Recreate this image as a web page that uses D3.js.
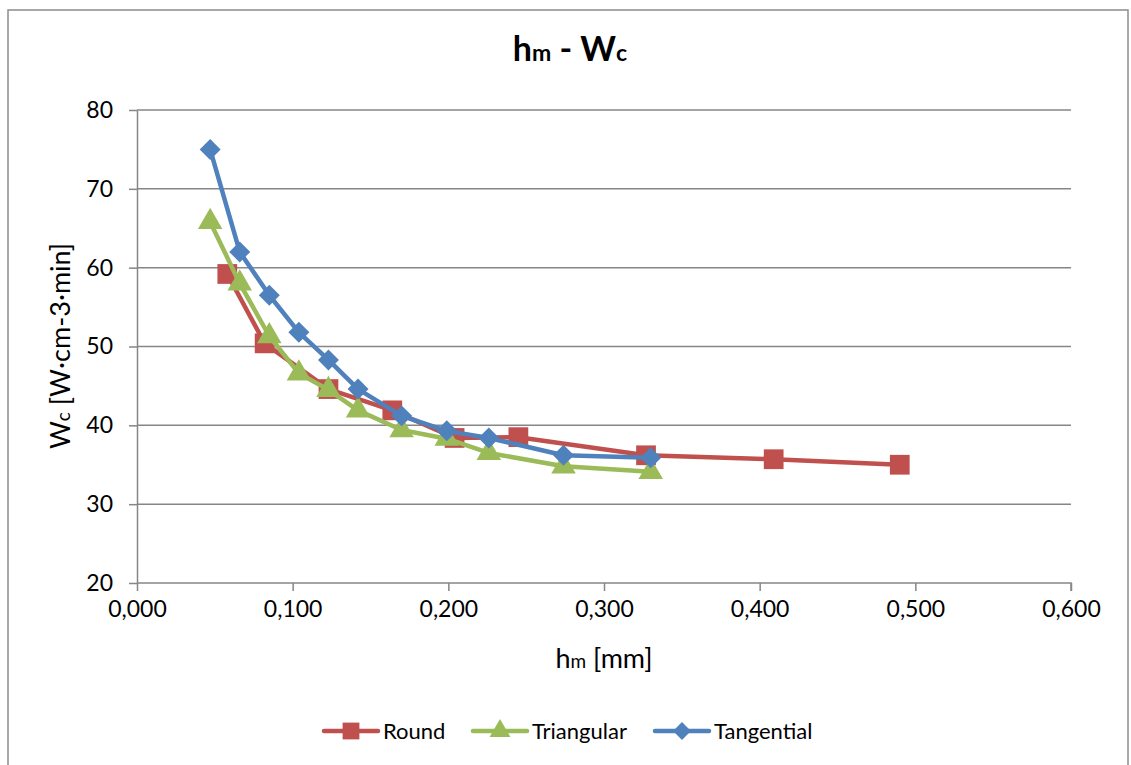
<!DOCTYPE html>
<html><head><meta charset="utf-8">
<script src="https://cdn.jsdelivr.net/npm/d3@7"></script>
<style>body{margin:0;background:#fff}svg{display:block}text{font-family:Lato,"Open Sans",sans-serif;fill:#000}</style>
</head><body><svg id="c" width="1131" height="765"></svg>
<script>
const hmTangential = [0.047,0.066,0.085,0.104,0.123,0.142,0.170,0.199,0.226,0.274,0.330];
const wcTangential = [75.0,62.0,56.5,51.8,48.3,44.6,41.2,39.3,38.4,36.2,35.9];
const hmTriangular = [0.047,0.066,0.085,0.104,0.123,0.142,0.170,0.199,0.226,0.274,0.330];
const wcTriangular = [65.8,58.0,51.3,46.6,44.5,41.9,39.4,38.3,36.5,34.8,34.1];
const hmRound = [0.058,0.082,0.123,0.164,0.204,0.245,0.327,0.409,0.490];
const wcRound = [59.2,50.4,44.6,41.9,38.4,38.5,36.2,35.7,35.0];
const xTicks = [0,0.1,0.2,0.3,0.4,0.5,0.6];
const yTicks = [20,30,40,50,60,70,80];
const seriesNames = ["Round","Triangular","Tangential"];

const series = [
  {name:seriesNames[0], color:"#C0504D", shape:"square", x:hmRound, y:wcRound},
  {name:seriesNames[1], color:"#9BBB59", shape:"triangle", x:hmTriangular, y:wcTriangular},
  {name:seriesNames[2], color:"#4F81BD", shape:"diamond", x:hmTangential, y:wcTangential}
];

const svg = d3.select("#c");
svg.append("rect").attr("x",8).attr("y",10).attr("width",1120).attr("height",770)
  .attr("fill","#fff").attr("stroke","#8c8c8c").attr("stroke-width",1.5);

const x = d3.scaleLinear().domain([0,0.6]).range([137,1071]);
const y = d3.scaleLinear().domain([20,80]).range([583,110]);

svg.append("g").selectAll("line").data(yTicks.slice(1)).join("line")
  .attr("x1",x(0)).attr("x2",x(0.6)).attr("y1",d=>y(d)).attr("y2",d=>y(d))
  .attr("stroke","#868686").attr("stroke-width",1.5);

const fmt = d => d3.format(".3f")(d).replace(".",",");
const xAxis = svg.append("g").attr("transform",`translate(0,${y(20)})`)
  .call(d3.axisBottom(x).tickValues(xTicks).tickFormat(fmt).tickSize(8).tickSizeOuter(8).tickPadding(10));
const yAxis = svg.append("g").attr("transform",`translate(${x(0)},0)`)
  .call(d3.axisLeft(y).tickValues(yTicks).tickSize(8).tickSizeOuter(0).tickPadding(16));
[xAxis,yAxis].forEach(a=>{
  a.selectAll("path,line").attr("stroke","#868686").attr("stroke-width",1.5);
  a.selectAll("text").style("font-size","23px").attr("fill","#000");
});
xAxis.select(".domain").attr("d",`M${x(0)},0H${x(0.6)}V8`);

function sym(shape){
  if(shape==="square") return d3.symbol(d3.symbolSquare, 390)();
  if(shape==="triangle") return d3.symbol(d3.symbolTriangle, 260)();
  return d3.symbol(d3.symbolSquare, 220)();
}
function rot(shape){ return shape==="diamond" ? " rotate(45)" : ""; }

const line = d3.line().x(d=>x(d[0])).y(d=>y(d[1]));
series.forEach(s=>{
  const pts = s.x.map((v,i)=>[v,s.y[i]]);
  const g = svg.append("g");
  g.append("path").attr("d",line(pts)).attr("fill","none").attr("stroke",s.color)
    .attr("stroke-width",4.5).attr("stroke-linejoin","round").attr("stroke-linecap","round");
  g.selectAll("path.m").data(pts).join("path").attr("class","m")
    .attr("d",sym(s.shape)).attr("fill",s.color)
    .attr("transform",d=>`translate(${x(d[0])},${y(d[1])})${rot(s.shape)}`);
});

const t = svg.append("text").attr("x",570).attr("y",61).attr("text-anchor","middle")
  .style("font-size","34px").style("font-weight","bold");
t.append("tspan").text("h");
t.append("tspan").text("m").style("font-size","23px");
t.append("tspan").text(" - W");
t.append("tspan").text("c").style("font-size","23px");

const xl = svg.append("text").attr("x",604).attr("y",668).attr("text-anchor","middle").style("font-size","27px");
xl.append("tspan").text("h");
xl.append("tspan").text("m").style("font-size","19px");
xl.append("tspan").text(" [mm]");

const yl = svg.append("text").attr("transform","translate(70,346) rotate(-90)").attr("text-anchor","middle").style("font-size","27px");
yl.append("tspan").text("W");
yl.append("tspan").text("c").style("font-size","19px");
yl.append("tspan").text(" [W·cm-3·min]");

const legX = [324,473,655];
series.forEach((s,i)=>{
  const g = svg.append("g").attr("transform",`translate(${legX[i]},731)`);
  g.append("line").attr("x1",0).attr("x2",54).attr("stroke",s.color).attr("stroke-width",4.5).attr("stroke-linecap","round");
  g.append("path").attr("d",sym(s.shape)).attr("fill",s.color).attr("transform","translate(27,0) scale(0.85)"+rot(s.shape));
  g.append("text").attr("x",59).attr("y",8).style("font-size","22px").text(s.name);
});
</script></body></html>
